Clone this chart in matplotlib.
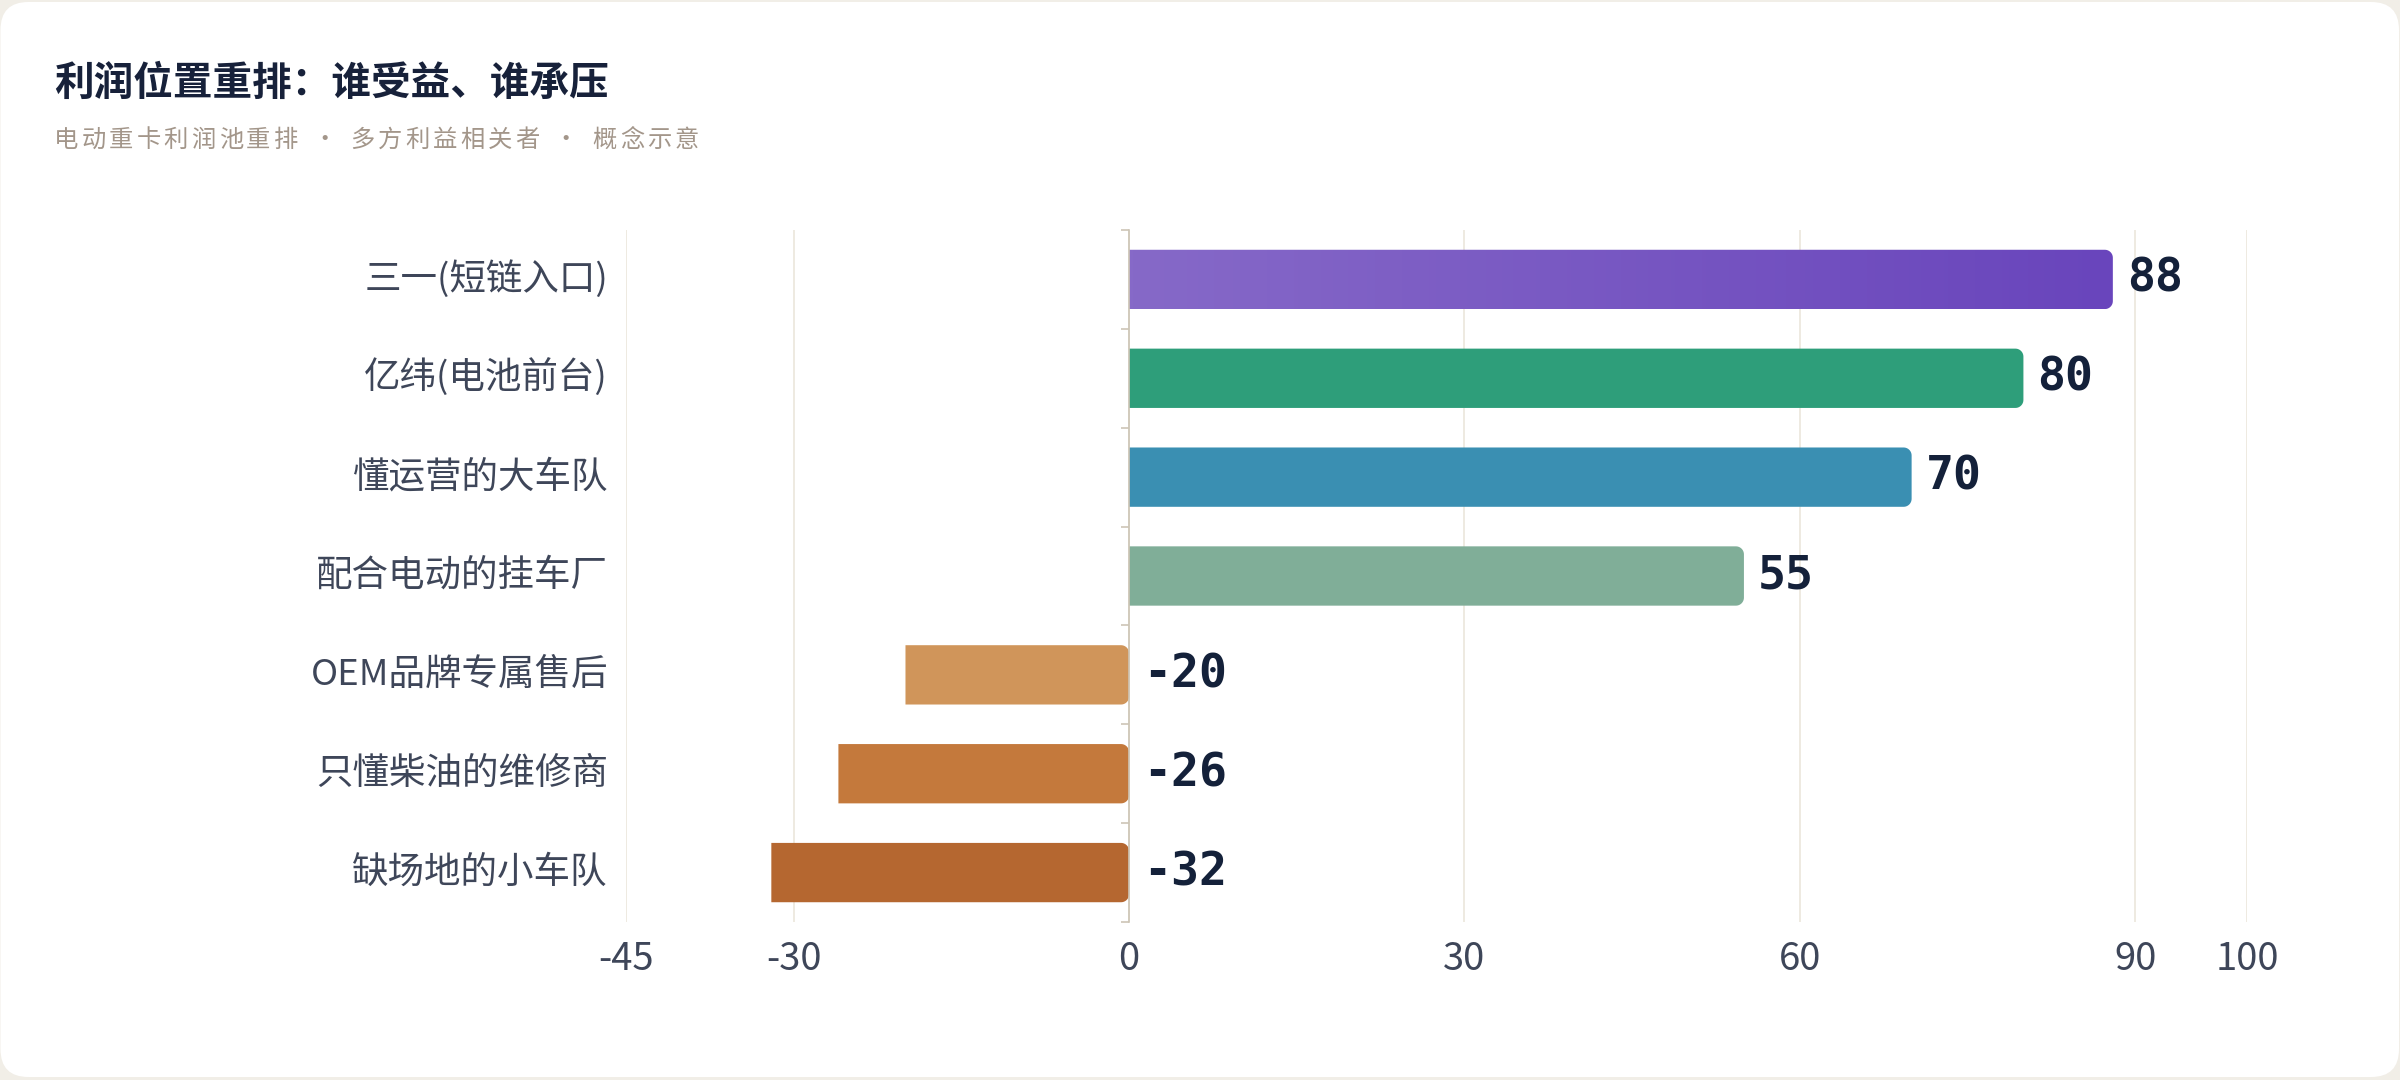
import numpy as np
import matplotlib
matplotlib.use("Agg")
import matplotlib.pyplot as plt
from matplotlib.patches import FancyBboxPatch, PathPatch
from matplotlib.path import Path
from matplotlib.colors import LinearSegmentedColormap
import matplotlib.transforms as mtransforms

plt.rcParams['font.family'] = ['Noto Sans CJK SC', 'DejaVu Sans']

# ---------------- data ----------------
categories = ["三一(短链入口)", "亿纬(电池前台)", "懂运营的大车队", "配合电动的挂车厂",
              "OEM品牌专属售后", "只懂柴油的维修商", "缺场地的小车队"]
values = [88, 80, 70, 55, -20, -26, -32]
bar_colors = ["#7a5cc4", "#2e9e7a", "#3a8fb2", "#80ae98", "#d0955a", "#c4793c", "#b56730"]
gradient_first = ["#8669c8", "#6945bc"]
xticks = [-45, -30, 0, 30, 60, 90, 100]
xlim = (-45, 100)

title = "利润位置重排：谁受益、谁承压"
subtitle = "电动重卡利润池重排 · 多方利益相关者 · 概念示意"

# ---------------- figure ----------------
W, H, DPI = 24, 10.8, 100
FW, FH = W * DPI, H * DPI
fig = plt.figure(figsize=(W, H), dpi=DPI)
fig.patch.set_facecolor("#f1eee7")

card = FancyBboxPatch((0.005, 0.03), W - 0.015, H - 0.05,
                      boxstyle="round,pad=0,rounding_size=0.28",
                      transform=fig.dpi_scale_trans, facecolor="white",
                      edgecolor="none", zorder=0)
fig.add_artist(card)

fig.text(54 / FW, 1 - 83 / FH, title, fontsize=28.5, fontweight="bold",
         color="#17213a", ha="left", va="center")

# subtitle with letter spacing
renderer = fig.canvas.get_renderer()
sub_size = 17.5
sub_sp = 3.2
xpos = 54.0
em_px = sub_size * DPI / 72
for ch in subtitle:
    if ch == " ":
        xpos += 0.32 * em_px + sub_sp
        continue
    t = fig.text(xpos / FW, 1 - 140 / FH, ch, fontsize=sub_size,
                 color="#a3968a", ha="left", va="center")
    w = t.get_window_extent(renderer).width
    xpos += w + sub_sp

ax = fig.add_axes([626 / FW, 1 - 922 / FH, (2247 - 626) / FW, (922 - 230) / FH])
ax.set_facecolor("none")
ax.set_xlim(*xlim)
n = len(categories)
ax.set_ylim(n - 0.5, -0.5)

# grid
ax.set_xticks(xticks)
ax.set_xticklabels([str(t) for t in xticks])
ax.grid(axis="x", color="#e9e4d9", linewidth=1.1, zorder=0)
ax.set_axisbelow(True)
ax.tick_params(axis="x", length=0, pad=13, labelsize=27.5, labelcolor="#3e4659")

for s in ["top", "right", "bottom"]:
    ax.spines[s].set_visible(False)
ax.spines["left"].set_position(("data", 0))
ax.spines["left"].set_color("#cdc5b6")
ax.spines["left"].set_linewidth(1.2)
ax.spines["left"].set_zorder(4)

ax.set_yticks(range(n))
ax.set_yticklabels([])
ax.tick_params(axis="y", which="major", length=0)
ax.set_yticks(np.arange(-0.5, n, 1.0), minor=True)
ax.tick_params(axis="y", which="minor", length=6, width=1.2, color="#cdc5b6", direction="out")

# category labels
trans_lab = mtransforms.blended_transform_factory(ax.transAxes, ax.transData)
for i, c in enumerate(categories):
    ax.annotate(c, xy=(0, i), xycoords=trans_lab, xytext=(-13, 0),
                textcoords="offset points", ha="right", va="center",
                fontsize=26.3, color="#3e4659")

# rounded bars
fig.canvas.draw()
px_per_x = ax.transData.transform((1, 0))[0] - ax.transData.transform((0, 0))[0]
px_per_y = abs(ax.transData.transform((0, 1))[1] - ax.transData.transform((0, 0))[1])
r_px = 8
rx = r_px / px_per_x
ry = r_px / px_per_y
bar_h = 0.6


def rounded_path(xl, xr, yc, h):
    y0, y1 = yc - h / 2, yc + h / 2
    pts = [(xl, y0), (xr - rx, y0)]
    t = np.linspace(-np.pi / 2, 0, 12)
    pts += list(zip(xr - rx + rx * np.cos(t), y0 + ry + ry * np.sin(t)))
    t = np.linspace(0, np.pi / 2, 12)
    pts += list(zip(xr - rx + rx * np.cos(t), y1 - ry + ry * np.sin(t)))
    pts += [(xl, y1), (xl, y0)]
    return Path(pts, closed=True)


for i, (v, col) in enumerate(zip(values, bar_colors)):
    xl, xr = (0, v) if v >= 0 else (v, 0)
    path = rounded_path(xl, xr, i, bar_h)
    if i == 0:
        patch = PathPatch(path, facecolor="none", edgecolor="none", zorder=3)
        ax.add_patch(patch)
        cmap = LinearSegmentedColormap.from_list("g", gradient_first)
        grad = np.linspace(0, 1, 256).reshape(1, -1)
        im = ax.imshow(grad, cmap=cmap, aspect="auto",
                       extent=[xl, xr, i + bar_h / 2, i - bar_h / 2], zorder=3)
        im.set_clip_path(patch)
    else:
        ax.add_patch(PathPatch(path, facecolor=col, edgecolor="none", zorder=3))
    anchor = v if v >= 0 else 0
    ax.annotate(str(v), xy=(anchor, i), xytext=(10, 0), textcoords="offset points",
                ha="left", va="center", fontsize=33.5, fontweight="bold",
                family="DejaVu Sans Mono", color="#14213a", zorder=5)

ax.set_xlim(*xlim)
ax.set_ylim(n - 0.5, -0.5)

fig.savefig("out.png", dpi=DPI)
